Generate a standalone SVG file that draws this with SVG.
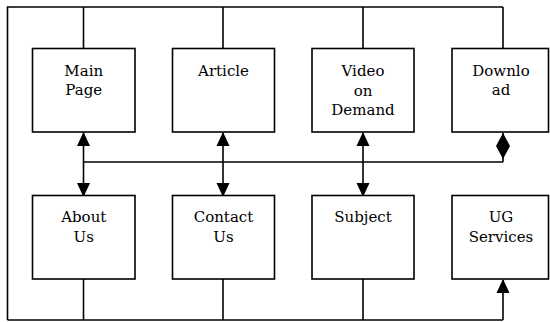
<svg xmlns="http://www.w3.org/2000/svg" width="550" height="322" viewBox="0 0 550 322">
  <style>
    .box { fill: #ffffff; stroke: #000000; stroke-width: 1.6; }
    .lbl { font-family: 'DejaVu Serif', 'Liberation Serif', serif; font-size: 15px; fill: #000000; text-anchor: middle; }
    .wire { fill: none; stroke: #000000; stroke-width: 1.6; }
  </style>
  <defs>
    <marker id="arrow" markerUnits="userSpaceOnUse" markerWidth="30" markerHeight="30" refX="0" refY="0" orient="auto" overflow="visible">
      <path d="M1,0 L-13,-6.5 L-13,6.5 Z" fill="#000000"/>
    </marker>
    <marker id="diamond" markerUnits="userSpaceOnUse" markerWidth="30" markerHeight="30" refX="0" refY="0" orient="auto" overflow="visible">
      <path d="M0,0 L-13,-7 L-26,0 L-13,7 Z" fill="#000000"/>
    </marker>
  </defs>
  <rect width="550" height="322" fill="#ffffff"/>

  <g id="connectors">
    <!-- top bus feeding the upper row -->
    <path class="wire" d="M7.5,320 V7 H503"/>
    <path class="wire" d="M83.5,7 V48"/>
    <path class="wire" d="M223,7 V48"/>
    <path class="wire" d="M363,7 V48"/>
    <path class="wire" d="M503,7 V48"/>
    <!-- middle bus between the rows -->
    <path class="wire" d="M83.5,162 H503"/>
    <path class="wire" d="M503,162 V133" marker-end="url(#diamond)"/>
    <path class="wire" d="M83.5,162 V133" marker-end="url(#arrow)"/>
    <path class="wire" d="M83.5,162 V196" marker-end="url(#arrow)"/>
    <path class="wire" d="M223,162 V133" marker-end="url(#arrow)"/>
    <path class="wire" d="M223,162 V196" marker-end="url(#arrow)"/>
    <path class="wire" d="M363,162 V133" marker-end="url(#arrow)"/>
    <path class="wire" d="M363,162 V196" marker-end="url(#arrow)"/>
    <!-- bottom bus under the lower row -->
    <path class="wire" d="M7.5,320 H503"/>
    <path class="wire" d="M83.5,279 V320"/>
    <path class="wire" d="M223,279 V320"/>
    <path class="wire" d="M363,279 V320"/>
    <path class="wire" d="M503,320 V280" marker-end="url(#arrow)"/>
  </g>

  <g id="main-page">
    <rect class="box" x="32.5" y="48.5" width="102.5" height="83.5"/>
    <text class="lbl" x="83.75" y="76">Main</text>
    <text class="lbl" x="83.75" y="95">Page</text>
  </g>
  <g id="article">
    <rect class="box" x="172.5" y="48.5" width="102" height="83.5"/>
    <text class="lbl" x="223.5" y="76">Article</text>
  </g>
  <g id="video-on-demand">
    <rect class="box" x="312" y="48.5" width="102" height="83.5"/>
    <text class="lbl" x="363" y="76">Video</text>
    <text class="lbl" x="363" y="95.5">on</text>
    <text class="lbl" x="363" y="115">Demand</text>
  </g>
  <g id="download">
    <rect class="box" x="452" y="48.5" width="96.5" height="83.5"/>
    <text class="lbl" x="501" y="76">Downlo</text>
    <text class="lbl" x="501" y="95">ad</text>
  </g>

  <g id="about-us">
    <rect class="box" x="32.5" y="195.5" width="102.5" height="83.5"/>
    <text class="lbl" x="83.75" y="222">About</text>
    <text class="lbl" x="83.75" y="242">Us</text>
  </g>
  <g id="contact-us">
    <rect class="box" x="172.5" y="195.5" width="102" height="83.5"/>
    <text class="lbl" x="223.5" y="222">Contact</text>
    <text class="lbl" x="223.5" y="242">Us</text>
  </g>
  <g id="subject">
    <rect class="box" x="312" y="195.5" width="102" height="83.5"/>
    <text class="lbl" x="363" y="222">Subject</text>
  </g>
  <g id="ug-services">
    <rect class="box" x="452" y="195.5" width="96.5" height="83.5"/>
    <text class="lbl" x="501" y="222">UG</text>
    <text class="lbl" x="501" y="242">Services</text>
  </g>
</svg>
